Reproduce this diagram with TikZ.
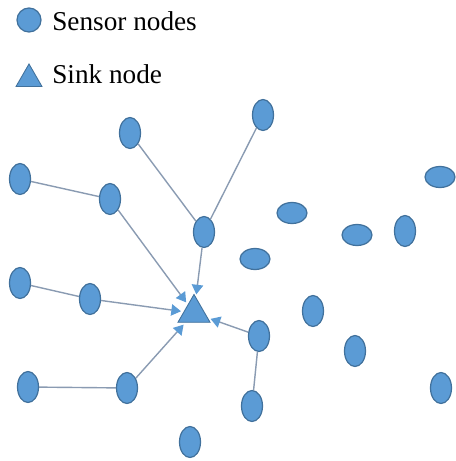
\documentclass[tikz,border=0pt]{standalone}
\usepackage{fontspec}
\setmainfont{Liberation Serif}
\usetikzlibrary{shapes.geometric,arrows.meta}
\definecolor{nodeblue}{HTML}{5B9BD5}
\definecolor{nodeedge}{HTML}{41719C}
\definecolor{linkgray}{HTML}{8A9BB2}

\begin{document}
\begin{tikzpicture}[x=0.02cm, y=-0.02cm,
  sensor/.style={ellipse, draw=nodeedge, fill=nodeblue, line width=0.7pt, minimum width=0.42cm, minimum height=0.62cm, inner sep=0pt},
  sensorflat/.style={sensor, minimum width=0.6cm, minimum height=0.42cm},
  sink/.style={regular polygon, regular polygon sides=3, draw=nodeedge, fill=nodeblue, line width=0.5pt, minimum size=0.74cm, inner sep=0pt},
  legendtext/.style={anchor=west, font=\fontsize{15.5}{18}\selectfont, inner sep=0pt},
  link/.style={draw=linkgray, line width=0.8pt},
  tolink/.style={link, shorten >=1.5pt, -{Triangle[length=5.5pt, width=6.5pt, color=nodeblue]}}]
\useasboundingbox (0,0) rectangle (456,461);

% Legend
\node[sensor, minimum width=0.48cm, minimum height=0.48cm] (legsensor) at (29,20) {};
\node[legendtext] (legsensortext) at (52,21) {Sensor nodes};
\node[sink, minimum size=0.6cm] (legsink) at (29,79) {};
\node[legendtext] (legsinktext) at (52,74) {Sink node};

% Sink node
\node[sink] (sink) at (194,313) {};

% Sensor nodes
\node[sensor] (s1) at (130,133) {};
\node[sensor] (s2) at (263,115) {};
\node[sensor] (s3) at (20,179) {};
\node[sensor] (s4) at (110,199) {};
\node[sensor] (s5) at (204,232) {};
\node[sensorflat] (s6) at (292,213) {};
\node[sensorflat] (s7) at (440,177) {};
\node[sensorflat] (s8) at (357,235) {};
\node[sensor] (s9) at (405,231) {};
\node[sensorflat] (s10) at (255,259) {};
\node[sensor] (s11) at (20,283) {};
\node[sensor] (s12) at (90,299) {};
\node[sensor] (s13) at (313,311) {};
\node[sensor] (s14) at (259,336) {};
\node[sensor] (s15) at (355,351) {};
\node[sensor] (s16) at (28,387) {};
\node[sensor] (s17) at (127,388) {};
\node[sensor] (s18) at (441,388) {};
\node[sensor] (s19) at (252,406) {};
\node[sensor] (s20) at (190,442) {};

% Routes to the sink
\draw[link] (s3) -- (s4);
\draw[tolink] (s4) -- (sink);
\draw[link] (s1) -- (s5);
\draw[link] (s2) -- (s5);
\draw[tolink] (s5) -- (sink);
\draw[link] (s11) -- (s12);
\draw[tolink] (s12) -- (sink);
\draw[link] (s16) -- (s17);
\draw[tolink] (s17) -- (sink);
\draw[link] (s19) -- (s14);
\draw[tolink] (s14) -- (sink);
\end{tikzpicture}
\end{document}
